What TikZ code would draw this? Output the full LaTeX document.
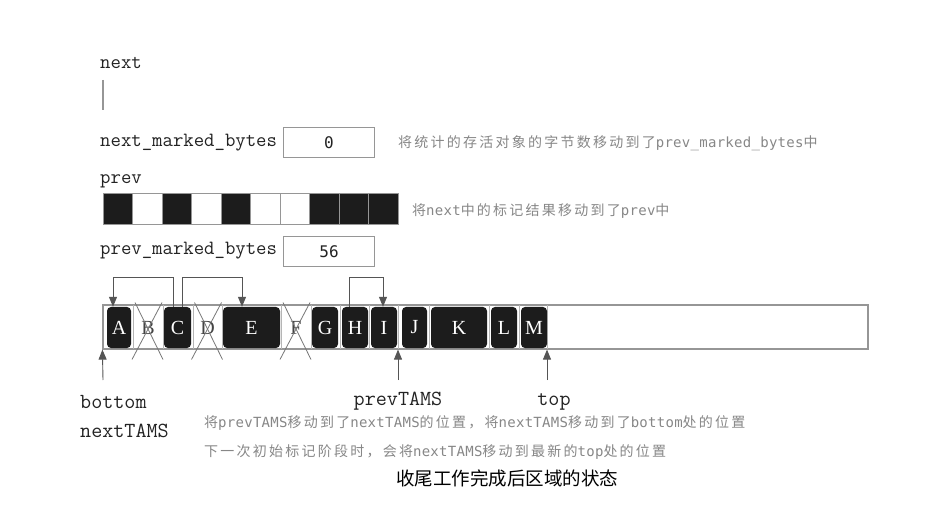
\documentclass[tikz,border=0pt]{standalone}
\usepackage{fontspec}
\setmainfont{Liberation Serif}
\newfontfamily\cjkg[LetterSpace=16]{Noto Sans CJK SC}
\newfontfamily\latg[LetterSpace=2]{DejaVu Sans Mono}
\newfontfamily\cjkc{Noto Sans CJK SC}
\newfontfamily\valf{DejaVu Sans Mono}
\usetikzlibrary{arrows.meta}
\definecolor{boxblack}{RGB}{28,28,28}
\definecolor{txtgray}{RGB}{135,135,135}
\definecolor{linegray}{RGB}{85,85,85}
\definecolor{bargray}{RGB}{150,150,150}
\definecolor{labcol}{RGB}{35,35,35}
\tikzset{
  tt/.style={font=\fontsize{20.2}{21}\ttfamily\selectfont, text=labcol, inner sep=0pt},
  ttb/.style={font=\fontsize{21.5}{22}\ttfamily\selectfont, text=labcol, inner sep=0pt},
  note/.style={text=txtgray, font=\fontsize{14}{16}\selectfont, inner sep=0pt, anchor=west},
  valbox/.style={draw=bargray, line width=1pt, minimum width=91pt, minimum height=30pt, inner sep=0pt, font=\valf\fontsize{16}{16}\selectfont, text=labcol},
  bit/.style={draw=bargray, line width=0.8pt, minimum width=29.5pt, minimum height=31pt, inner sep=0pt},
  heap/.style={draw=bargray, line width=1.2pt, minimum width=765pt, minimum height=44pt, inner sep=0pt},
  live/.style={fill=boxblack, rounded corners=4pt, text=white, font=\fontsize{20}{20}\selectfont, inner sep=0pt, minimum height=41pt},
  dead/.style={text=labcol!85, font=\fontsize{20}{20}\selectfont, inner sep=0pt, minimum height=41pt},
  sep/.style={draw=bargray!70, line width=0.7pt},
  xline/.style={draw=linegray!80, line width=0.8pt},
  ptr/.style={draw=linegray, line width=0.9pt, -{Triangle[length=10pt,width=8pt]}},
}
\begin{document}
\begin{tikzpicture}[x=1pt,y=-1pt]
\useasboundingbox[fill=white] (0,0) rectangle (943,513);

% upper labels
\node[tt, anchor=base west] (lnext) at (100,69) {next};
\coordinate (nx1) at (103,80);
\coordinate (nx2) at (103,110);
\draw[draw=bargray, line width=1.2pt] (nx1) -- (nx2);

\node[tt, anchor=base west] (lnmb) at (100,147) {next\_marked\_bytes};
\node[valbox] (nmb) at (329,143) {0};
\node[note] (t1) at (398,143) {{\cjkg 将统计的存活对象的字节数移动到了}{\latg prev\_marked\_bytes}{\cjkg 中}};

\node[tt, anchor=base west] (lprev) at (100,184) {prev};
\foreach \i/\c in {1/boxblack,2/white,3/boxblack,4/white,5/boxblack,6/white,7/white,8/boxblack,9/boxblack,10/boxblack}
  \node[bit, fill=\c] (b\i) at ({103+29.5*\i-14.75},208.5) {};
\node[note] (t2) at (412,211) {{\cjkg 将}{\latg next}{\cjkg 中的标记结果移动到了}{\latg prev}{\cjkg 中}};

\node[tt, anchor=base west] (lpmb) at (100,255) {prev\_marked\_bytes};
\node[valbox] (pmb) at (329,251.5) {56};

% heap region
\node[heap] (heap) at (485.5,327) {};
\foreach \x in {133,163,193,222,281,311,340,369,398,429,489,519,547}
  \draw[sep] (\x,305) -- (\x,349);

\node[live, minimum width=24pt] (A) at (119,327.5) {A};
\node[dead, minimum width=26pt] (B) at (148,327.5) {B};
\node[live, minimum width=27pt] (C) at (177.5,327.5) {C};
\node[dead, minimum width=26pt] (D) at (207.5,327.5) {D};
\node[live, minimum width=57pt] (E) at (251.5,327.5) {E};
\node[dead, minimum width=26pt] (F) at (296,327.5) {F};
\node[live, minimum width=26pt] (G) at (325,327.5) {G};
\node[live, minimum width=26pt] (H) at (355,327.5) {H};
\node[live, minimum width=26pt] (I) at (384,327.5) {I};
\node[live, minimum width=25pt] (J) at (414.5,327.5) {J};
\node[live, minimum width=56pt] (K) at (459,327.5) {K};
\node[live, minimum width=26pt] (L) at (504,327.5) {L};
\node[live, minimum width=26pt] (M) at (534,327.5) {M};

% crosses over dead objects
\foreach \n in {B,D,F}{
  \draw[xline] ([shift={(-13,-25)}]\n.center) -- ([shift={(15,32)}]\n.center);
  \draw[xline] ([shift={(14,-25)}]\n.center) -- ([shift={(-16,32)}]\n.center);
}

% pointers
\draw[ptr] ([xshift=-4.5pt]C.north) -- ++(0,-29) -| ([xshift=-6pt]A.north);
\draw[ptr] ([xshift=4.5pt]C.north) -- ++(0,-29) -| ([xshift=-9.5pt]E.north);
\draw[ptr] ([xshift=-6pt]H.north) -- ++(0,-29) -| ([xshift=-1pt]I.north);

% bottom markers
\coordinate (cb) at (103,380);
\coordinate (cp) at (398,380);
\coordinate (ct) at (547,380);
\draw[ptr] (cb) -- (heap.south west);
\draw[ptr] (cp) -- (cp |- heap.south);
\draw[ptr] (ct) -- (ct |- heap.south);

\node[ttb, anchor=base west] (lbottom) at (80,408) {bottom};
\node[ttb, anchor=base west] (lntams) at (80,437) {nextTAMS};
\node[ttb, anchor=base] (lptams) at (398,405) {prevTAMS};
\node[ttb, anchor=base] (ltop) at (554,405) {top};

\node[note] (t3) at (204,423) {{\cjkg 将}{\latg prevTAMS}{\cjkg 移动到了}{\latg nextTAMS}{\cjkg 的位置，将}{\latg nextTAMS}{\cjkg 移动到了}{\latg bottom}{\cjkg 处的位置}};
\node[note] (t4) at (204,452) {{\cjkg 下一次初始标记阶段时，会将}{\latg nextTAMS}{\cjkg 移动到最新的}{\latg top}{\cjkg 处的位置}};

\node[font=\cjkc\fontsize{18.5}{20}\selectfont, text=black, inner sep=0pt] (cap) at (507,478) {收尾工作完成后区域的状态};
\end{tikzpicture}
\end{document}
